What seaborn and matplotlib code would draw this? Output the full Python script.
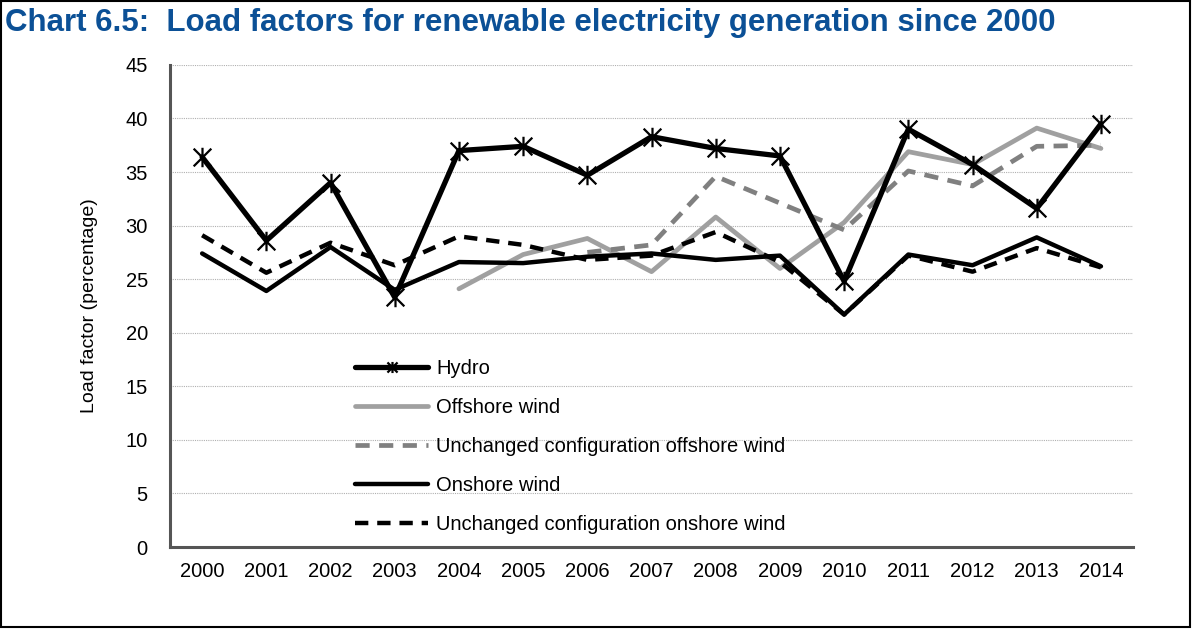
import seaborn as sns
import matplotlib.pyplot as plt
from matplotlib.path import Path
import pandas as pd
import numpy as np

years = list(range(2000, 2015))
hydro = [36.4, 28.6, 34.0, 23.3, 37.0, 37.4, 34.7, 38.3, 37.2, 36.5, 24.8, 39.0, 35.7, 31.6, 39.5]
offshore = [None, None, None, None, 24.1, 27.3, 28.8, 25.7, 30.8, 26.0, 30.3, 36.9, 35.7, 39.1, 37.2]
unch_offshore = [None, None, None, None, None, None, 27.5, 28.2, 34.6, 32.1, 29.6, 35.1, 33.7, 37.4, 37.5]
onshore = [27.4, 23.9, 28.0, 24.0, 26.6, 26.5, 27.1, 27.4, 26.8, 27.2, 21.7, 27.3, 26.3, 28.9, 26.2]
unch_onshore = [29.1, 25.6, 28.4, 26.3, 29.0, 28.2, 26.8, 27.2, 29.4, 26.6, 21.7, 27.2, 25.7, 27.9, 26.1]

series = ["Hydro", "Offshore wind", "Unchanged configuration offshore wind",
          "Onshore wind", "Unchanged configuration onshore wind"]
values = [hydro, offshore, unch_offshore, onshore, unch_onshore]

sns.set_style("white", {"text.color": "black", "axes.labelcolor": "black",
                        "xtick.color": "black", "ytick.color": "black"})
plt.rcParams['font.family'] = ['Liberation Sans', 'DejaVu Sans']

# Excel style star marker: an x with a vertical bar through it
star = Path([(-1, -1), (1, 1), (-1, 1), (1, -1), (0, -1.1), (0, 1.1)],
            [Path.MOVETO, Path.LINETO] * 3)

fig = plt.figure(figsize=(12, 6.3), dpi=100)
ax = fig.add_axes([0.1417, 0.1317, 0.8025, 0.7653])

styles = {
    "Hydro": dict(color="black", lw=3.8, ls="-", marker=star, ms=14, mew=1.6),
    "Offshore wind": dict(color="#a0a0a0", lw=3.4, ls="-"),
    "Unchanged configuration offshore wind": dict(color="#808080", lw=3.4, ls=(0, (3, 2))),
    "Onshore wind": dict(color="black", lw=3.2, ls="-"),
    "Unchanged configuration onshore wind": dict(color="black", lw=3.2, ls=(0, (3, 2))),
}

# grey lines first, hydro on top
draw_order = ["Offshore wind", "Unchanged configuration offshore wind",
              "Onshore wind", "Unchanged configuration onshore wind", "Hydro"]
for name in draw_order:
    vals = values[series.index(name)]
    df = pd.DataFrame({"year": years, "value": [np.nan if v is None else v for v in vals]}).dropna()
    st = styles[name]
    kw = dict(x="year", y="value", data=df, ax=ax, color=st["color"], linewidth=st["lw"],
              label=name, zorder=3 if name == "Hydro" else 2)
    if "marker" in st:
        kw.update(marker=st["marker"], markersize=st["ms"], markeredgewidth=st["mew"],
                  markeredgecolor="black")
    sns.lineplot(**kw)
    ax.lines[-1].set_linestyle(st["ls"])

ax.set_xlim(1999.5, 2014.5)
ax.set_ylim(0, 45)
ax.set_yticks(range(0, 46, 5))
ax.set_xticks(years)
ax.set_xticks(np.arange(1999.5, 2015, 1), minor=True)
ax.tick_params(axis="x", which="major", length=0, labelsize=14.5, pad=11, labelcolor="black")
ax.tick_params(axis="x", which="minor", length=7, width=1.2, color="#555555", direction="out")
ax.tick_params(axis="y", length=7, width=1.2, color="#555555", direction="out", labelsize=14.5,
               pad=9, labelcolor="black")
ax.yaxis.grid(True, linestyle=(0, (1, 1)), color="#b0b0b0", linewidth=0.8)
ax.set_axisbelow(True)
for s in ["top", "right"]:
    ax.spines[s].set_visible(False)
for s in ["left", "bottom"]:
    ax.spines[s].set_color("#555555")
    ax.spines[s].set_linewidth(2.2)
ax.set_xlabel("")
ax.set_ylabel("Load factor (percentage)", fontsize=14, labelpad=20, color="black")

handles, labels = ax.get_legend_handles_labels()
hmap = dict(zip(labels, handles))
leg = ax.legend([hmap[n] for n in series], series, loc="upper left",
                bbox_to_anchor=(0.182, 0.41), frameon=False, fontsize=14.5,
                handlelength=3.6, handletextpad=0.4, labelspacing=0.99, borderpad=0,
                labelcolor="black")
leg.legend_handles[0].set_markersize(8)

fig.text(0.004, 0.963, "Chart 6.5:  Load factors for renewable electricity generation since 2000",
         fontsize=22.5, fontweight="bold", color="#0b5096", va="center", ha="left")

# outer frame
fig.add_artist(plt.Rectangle((0.001, 0.004), 0.991, 0.994, transform=fig.transFigure,
                             fill=False, edgecolor="black", linewidth=1.5))

fig.savefig("out.png", dpi=100)
